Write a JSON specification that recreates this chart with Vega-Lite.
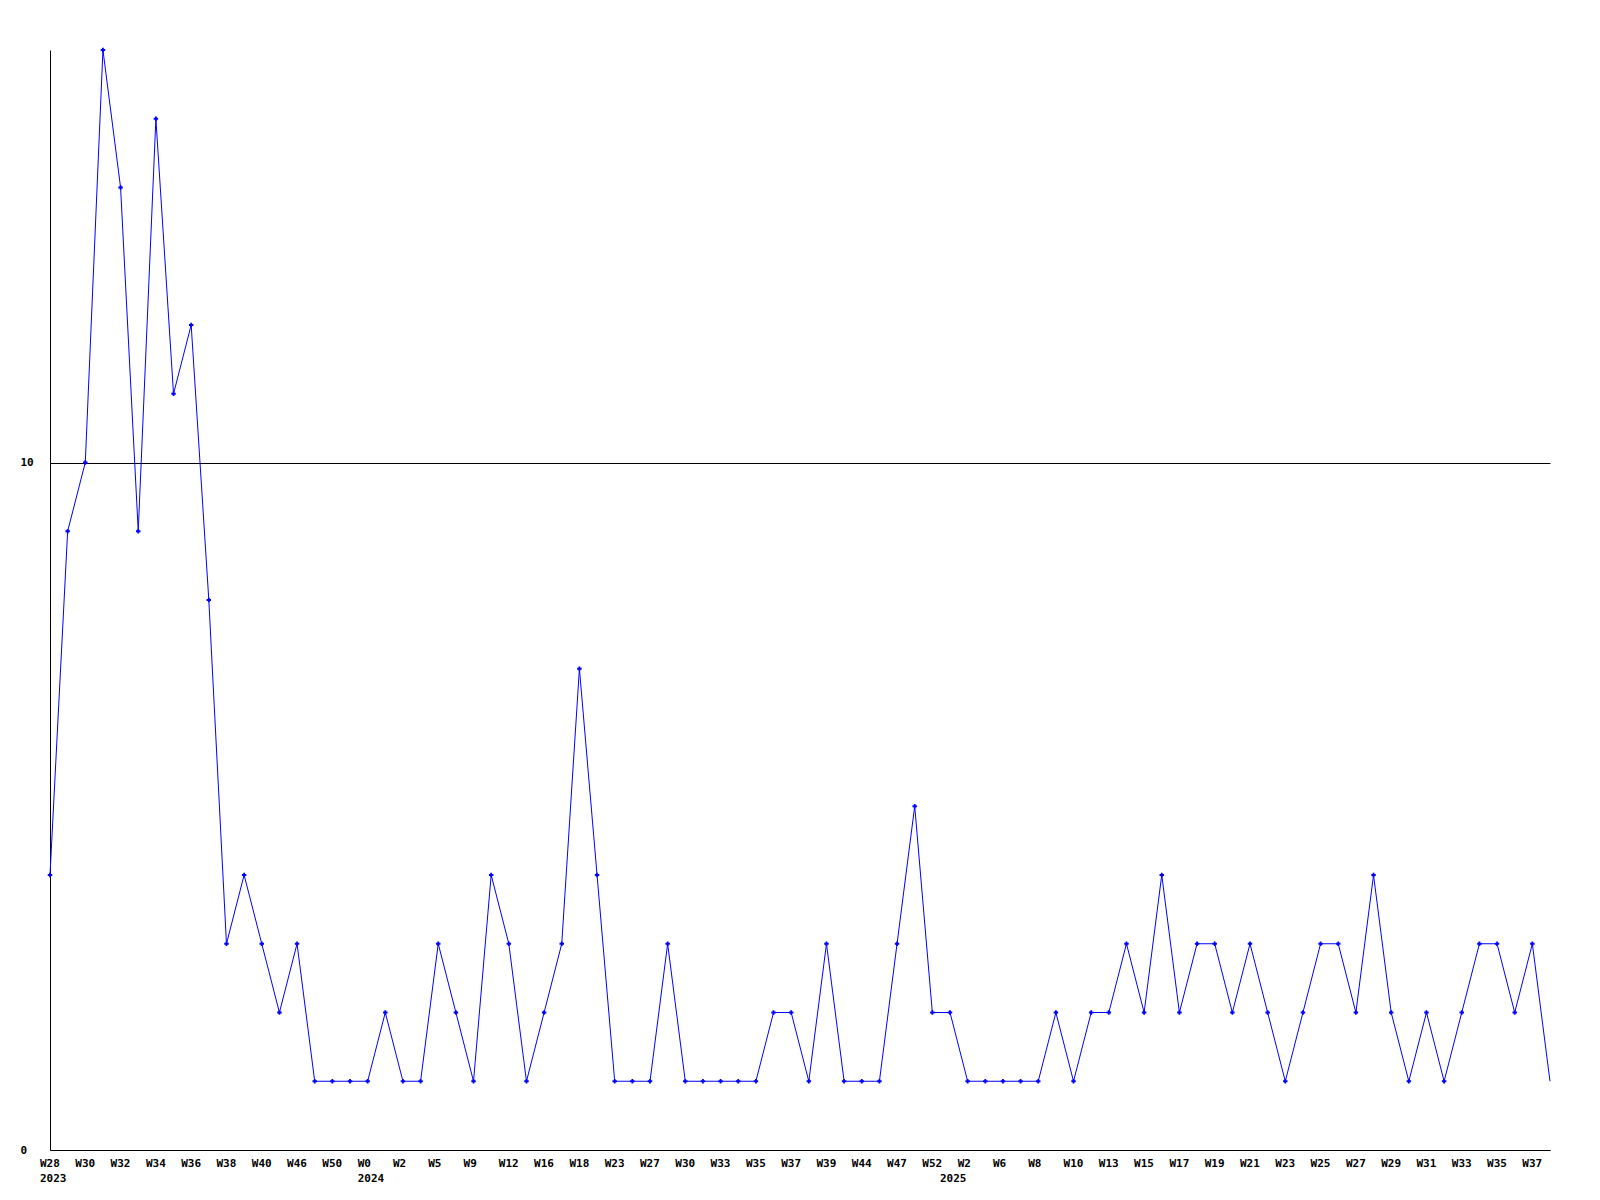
{
  "$schema": "https://vega.github.io/schema/vega-lite/v6.json",
  "width": 1500,
  "height": 1100,
  "autosize": {"type": "none"},
  "padding": {"left": 50, "top": 50, "right": 50, "bottom": 50},
  "background": "white",
  "config": {
    "view": {"stroke": null},
    "axis": {"labelFont": "DejaVu Sans Mono", "labelFontWeight": "bold", "labelFontSize": 11, "labelColor": "black", "domainColor": "black", "domainWidth": 1, "ticks": false, "tickSize": 0, "title": null}
  },
  "data": {"values": [
    {"w": "2023-W28", "v": 4}, {"w": "2023-W29", "v": 9}, {"w": "2023-W30", "v": 10}, {"w": "2023-W31", "v": 16},
    {"w": "2023-W32", "v": 14}, {"w": "2023-W33", "v": 9}, {"w": "2023-W34", "v": 15}, {"w": "2023-W35", "v": 11},
    {"w": "2023-W36", "v": 12}, {"w": "2023-W37", "v": 8}, {"w": "2023-W38", "v": 3}, {"w": "2023-W39", "v": 4},
    {"w": "2023-W40", "v": 3}, {"w": "2023-W43", "v": 2}, {"w": "2023-W46", "v": 3}, {"w": "2023-W48", "v": 1},
    {"w": "2023-W50", "v": 1}, {"w": "2023-W51", "v": 1}, {"w": "2024-W0", "v": 1}, {"w": "2024-W1", "v": 2},
    {"w": "2024-W2", "v": 1}, {"w": "2024-W3", "v": 1}, {"w": "2024-W5", "v": 3}, {"w": "2024-W7", "v": 2},
    {"w": "2024-W9", "v": 1}, {"w": "2024-W10", "v": 4}, {"w": "2024-W12", "v": 3}, {"w": "2024-W14", "v": 1},
    {"w": "2024-W16", "v": 2}, {"w": "2024-W17", "v": 3}, {"w": "2024-W18", "v": 7}, {"w": "2024-W20", "v": 4},
    {"w": "2024-W23", "v": 1}, {"w": "2024-W25", "v": 1}, {"w": "2024-W27", "v": 1}, {"w": "2024-W28", "v": 3},
    {"w": "2024-W30", "v": 1}, {"w": "2024-W31", "v": 1}, {"w": "2024-W33", "v": 1}, {"w": "2024-W34", "v": 1},
    {"w": "2024-W35", "v": 1}, {"w": "2024-W36", "v": 2}, {"w": "2024-W37", "v": 2}, {"w": "2024-W38", "v": 1},
    {"w": "2024-W39", "v": 3}, {"w": "2024-W41", "v": 1}, {"w": "2024-W44", "v": 1}, {"w": "2024-W45", "v": 1},
    {"w": "2024-W47", "v": 3}, {"w": "2024-W49", "v": 5}, {"w": "2024-W52", "v": 2}, {"w": "2025-W1", "v": 2},
    {"w": "2025-W2", "v": 1}, {"w": "2025-W4", "v": 1}, {"w": "2025-W6", "v": 1}, {"w": "2025-W7", "v": 1},
    {"w": "2025-W8", "v": 1}, {"w": "2025-W9", "v": 2}, {"w": "2025-W10", "v": 1}, {"w": "2025-W12", "v": 2},
    {"w": "2025-W13", "v": 2}, {"w": "2025-W14", "v": 3}, {"w": "2025-W15", "v": 2}, {"w": "2025-W16", "v": 4},
    {"w": "2025-W17", "v": 2}, {"w": "2025-W18", "v": 3}, {"w": "2025-W19", "v": 3}, {"w": "2025-W20", "v": 2},
    {"w": "2025-W21", "v": 3}, {"w": "2025-W22", "v": 2}, {"w": "2025-W23", "v": 1}, {"w": "2025-W24", "v": 2},
    {"w": "2025-W25", "v": 3}, {"w": "2025-W26", "v": 3}, {"w": "2025-W27", "v": 2}, {"w": "2025-W28", "v": 4},
    {"w": "2025-W29", "v": 2}, {"w": "2025-W30", "v": 1}, {"w": "2025-W31", "v": 2}, {"w": "2025-W32", "v": 1},
    {"w": "2025-W33", "v": 2}, {"w": "2025-W34", "v": 3}, {"w": "2025-W35", "v": 3}, {"w": "2025-W36", "v": 2},
    {"w": "2025-W37", "v": 3}, {"w": "2025-W38", "v": 1}
  ]},
  "encoding": {
    "x": {
      "field": "w", "type": "ordinal", "sort": null,
      "scale": {"type": "point", "padding": 0},
      "axis": {
        "labelAngle": 0, "labelAlign": "left", "labelOffset": -10.5, "labelPadding": 7, "labelLineHeight": 15, "labelOverlap": false, "labelFlush": false, "grid": false,
        "values": ["2023-W28","2023-W30","2023-W32","2023-W34","2023-W36","2023-W38","2023-W40","2023-W46","2023-W50","2024-W0","2024-W2","2024-W5","2024-W9","2024-W12","2024-W16","2024-W18","2024-W23","2024-W27","2024-W30","2024-W33","2024-W35","2024-W37","2024-W39","2024-W44","2024-W47","2024-W52","2025-W1","2025-W2","2025-W6","2025-W8","2025-W10","2025-W13","2025-W15","2025-W17","2025-W19","2025-W21","2025-W23","2025-W25","2025-W27","2025-W29","2025-W31","2025-W33","2025-W35","2025-W37"],
        "labelExpr": "datum.value == '2025-W1' ? [' ', '2025'] : indexof(['2023-W28','2024-W0'], datum.value) >= 0 ? [substring(datum.value,5), substring(datum.value,0,4)] : substring(datum.value,5)"
      }
    },
    "y": {
      "field": "v", "type": "quantitative",
      "scale": {"domain": [0, 16], "nice": false, "zero": true},
      "axis": {"values": [0, 10], "grid": true, "gridColor": "black", "gridOpacity": 1, "gridWidth": 1, "labelAlign": "left", "labelPadding": 30, "labelBaseline": "middle"}
    }
  },
  "layer": [
    {"mark": {"type": "line", "color": "#0000ff", "strokeWidth": 1}},
    {"transform": [{"filter": "datum.w != '2025-W38'"}],
     "mark": {"type": "point", "shape": "cross", "filled": true, "color": "#0000ff", "size": 20, "opacity": 1}}
  ]
}
